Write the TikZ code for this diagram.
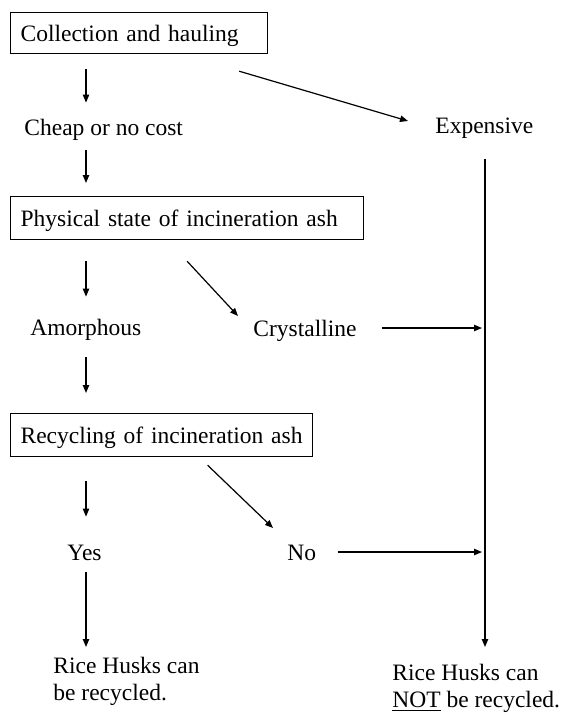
\documentclass[tikz,border=0pt]{standalone}
\usepackage{fontspec}
\setmainfont{Liberation Serif}
\usetikzlibrary{calc}
\usetikzlibrary{arrows.meta}

\begin{document}
\begin{tikzpicture}[x=0.5pt,y=-0.5pt,font=\fontsize{11.75}{13.5}\selectfont,
        lbl/.style={inner sep=0pt,text height=8pt,text depth=2pt,anchor=base west},
        stepbox/.style={draw,line width=0.6pt,anchor=north west,inner xsep=5pt,inner ysep=0pt,
                text height=9pt,text depth=1pt,align=left},
        arr/.style={line width=0.6pt,-{Triangle[length=4pt,width=3.2pt]}}]
                \useasboundingbox (0,0) rectangle (564,718);
                \coordinate (spine) at (86,0);
                \coordinate (rail) at (485,0);
                % boxes
                \node[stepbox,text width=118.5pt,minimum height=20.5pt] (coll) at (10,12) {\mbox{Collection and hauling}};
                \node[stepbox,text width=166.5pt,minimum height=21.5pt] (phys) at (10,196) {\mbox{Physical state of incineration ash}};
                \node[stepbox,text width=141pt,minimum height=21.5pt] (recyc) at (10,413) {\mbox{Recycling of incineration ash}};
                % answers
                \node[lbl] (cheap) at (24,135) {Cheap or no cost};
                \node[lbl] (expensive) at (435,133) {Expensive};
                \node[lbl] (amorph) at (30,335) {Amorphous};
                \node[lbl] (cryst) at (253,336) {Crystalline};
                \node[lbl] (yes) at (67,560) {Yes};
                \node[lbl] (no) at (287,560) {No};
                \node[anchor=north west,inner sep=0pt,align=left] (canrice) at (53,657) {Rice Husks can\\be recycled.};
                \node[anchor=north west,inner sep=0pt,align=left] (notrice) at (392,664) {Rice Husks can\\\underline{NOT} be recycled.};
                % left column
                \draw[arr,shorten <=7.5pt,shorten >=8pt] (coll.south -| spine) -- (cheap.north -| spine);
                \draw[arr,shorten <=5.5pt,shorten >=6.5pt] (cheap.south -| spine) -- (phys.north -| spine);
                \draw[arr,shorten <=10.5pt,shorten >=11pt] (phys.south -| spine) -- (amorph.north -| spine);
                \draw[arr,shorten <=9pt,shorten >=10pt] (amorph.south -| spine) -- (recyc.north -| spine);
                \draw[arr,shorten <=12pt,shorten >=13.5pt] (recyc.south -| spine) -- (yes.north -| spine);
                \draw[arr,shorten <=4pt,shorten >=5pt] (yes.south -| spine) -- (canrice.north -| spine);
                % branches
                \draw[arr] ($(coll.south east)+(-29,17)$) -- ($(expensive.west)+(-27,-6)$);
                \draw[arr] ($(phys.south)+(0,21)$) -- ($(cryst.west)+(-15,-14)$);
                \draw[arr] ($(recyc.south)+(46,8)$) -- ($(no.west)+(-14,-26)$);
                \draw[arr,shorten <=12.5pt,shorten >=1.5pt] ([yshift=1pt]cryst.east) -- ([yshift=1pt]cryst.east -| rail);
                \draw[arr,shorten <=10.5pt,shorten >=1.5pt] ([yshift=1pt]no.east) -- ([yshift=1pt]no.east -| rail);
                \draw[arr,shorten <=11pt,shorten >=8.5pt] (expensive.south -| rail) -- (notrice.north -| rail);
\end{tikzpicture}
\end{document}
